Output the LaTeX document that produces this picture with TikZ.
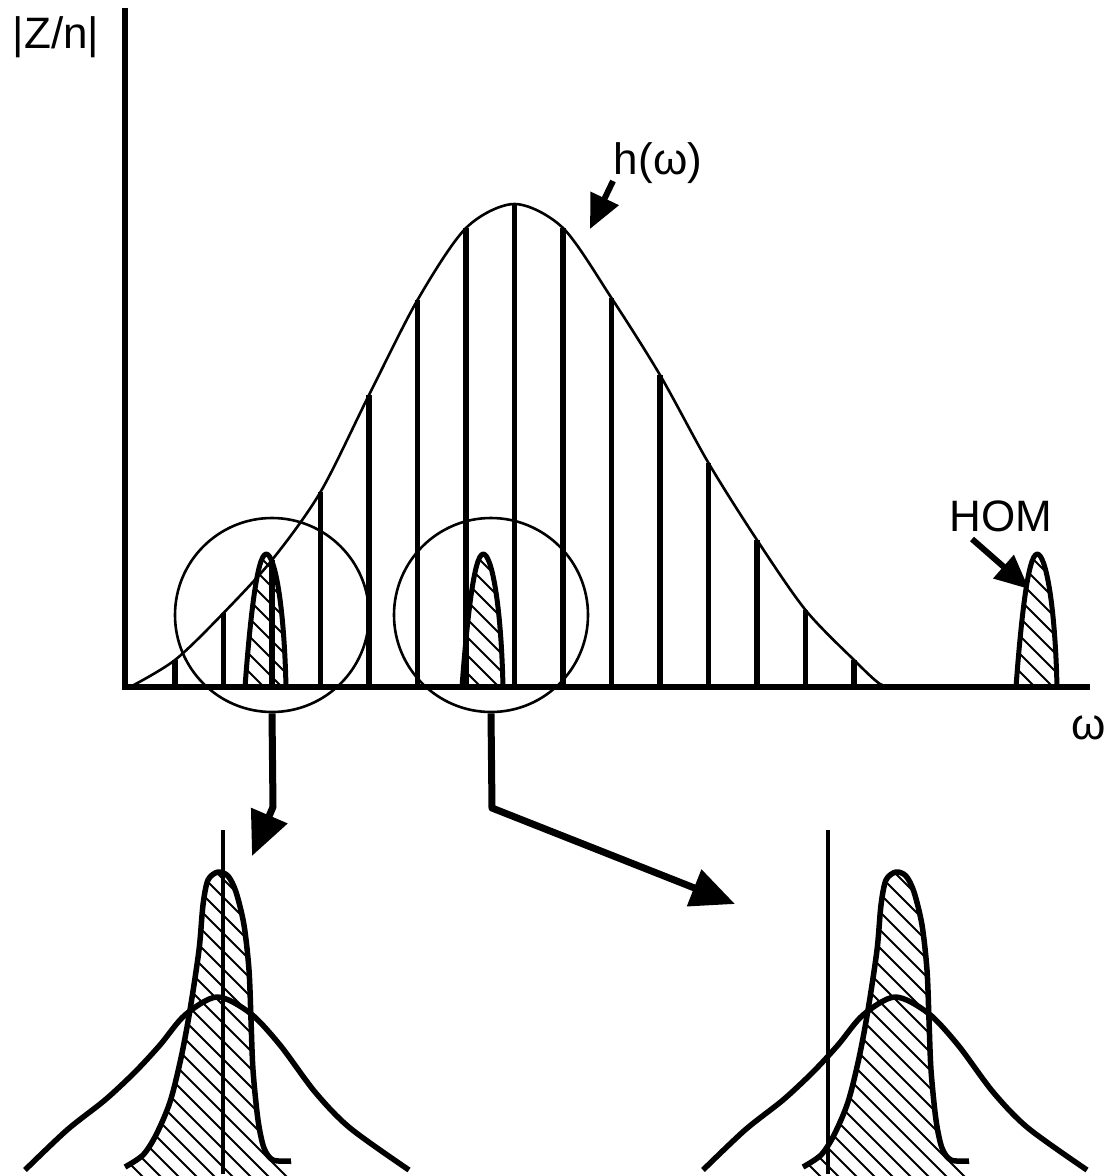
\documentclass[tikz,border=0pt]{standalone}
\usepackage{fontspec}
\setmainfont{Liberation Sans}
\usetikzlibrary{arrows.meta}
\begin{document}
\begin{tikzpicture}[x=1pt,y=-1pt,
  axis/.style={line width=6pt},
  bar/.style={line width=5.5pt},
  env/.style={line width=2.6pt},
  ring/.style={circle, draw, line width=2.6pt, minimum size=194pt, inner sep=0pt},
  peakline/.style={line width=5pt, line join=round},
  curveline/.style={line width=5.5pt, line join=round},
  vline/.style={line width=4.5pt},
  hatchline/.style={line width=2pt},
  bigarrow/.style={line width=7pt, line join=round, -{Triangle[length=44pt,width=38pt]}},
  smallarrow/.style={line width=6pt, -{Triangle[length=34pt,width=30pt]}},
  lbl/.style={inner sep=0pt, font=\fontsize{44}{48}\selectfont}]
\useasboundingbox (0,0) rectangle (1114,1176);

% hatched peaks on the axis
\foreach \c in {267,484,1038}{
  \begin{scope}
    \clip ({\c-22},687) .. controls ({\c-17},620) and ({\c-10},555) .. ({\c-1},554)
       .. controls ({\c+7},553) and ({\c+17},600) .. ({\c+19},687) -- cycle;
    \foreach \k in {-3,...,10}
      \draw[hatchline] ({\c-150+18*\k},540) -- ++(160,160);
  \end{scope}
  \draw[peakline] ({\c-22},687) .. controls ({\c-17},620) and ({\c-10},555) .. ({\c-1},554)
     .. controls ({\c+7},553) and ({\c+17},600) .. ({\c+19},687);
}

% bars
\foreach \x/\t in {175/660,223.5/613,272/560,320.5/492,369/395,417.5/300,466/228,514.5/204,563/228,611.5/298,660/375,708.5/463,757/540,805.5/610,854/660}{
  \draw[bar] (\x,687) -- (\x,\t);
}

% envelope h(omega)
\draw[env] plot[smooth] coordinates {(130,687) (175,660) (223.5,613) (272,560) (320.5,492) (369,395) (417.5,300) (466,228) (514.5,204) (563,228) (611.5,298) (660,375) (708.5,463) (757,540) (805.5,610) (854,660) (880,684) (895,687)};

% axes
\draw[axis] (125,8) -- (125,690);
\draw[axis] (122,687) -- (1090,687);

% circles
\node[ring] (lc) at (272,615) {};
\node[ring] (rc) at (491,615) {};

% labels
\node[lbl] (zn) at (56,37) {|Z/n|};
\node[lbl] (h) at (658,163) {h(ω)};
\node[lbl] (hom) at (1001,516) {HOM};
\node[lbl] (w) at (1089,728) {ω};

% label arrows
\coordinate (hs) at (613,181);
\coordinate (ht) at (590,229);
\draw[smallarrow] (hs) -- (ht);
\coordinate (ms) at (972,539);
\coordinate (mt) at (1029,589);
\draw[smallarrow] (ms) -- (mt);

% zoom arrows
\coordinate (lbend) at (273,807);
\coordinate (ltip) at (252,856);
\draw[bigarrow] (lc.south) -- (lbend) -- (ltip);
\coordinate (rbend) at (492,808);
\coordinate (rtip) at (735,904);
\draw[bigarrow] (rc.south) -- (rbend) -- (rtip);

% bottom detail plots
\foreach \s/\v in {0/223,678/150}{
\begin{scope}[shift={(\s,0)}]
  \begin{scope}
    \clip plot[smooth] coordinates {(125,1167) (143,1155) (156,1135) (170,1102) (181,1058) (190,1010) (199,950) (203,905) (208,880) (218,872) (228,876) (236,892) (244,925) (249,970) (251,1020) (253,1070) (258,1120) (264,1148) (273,1160) (291,1161)} -- (291,1176) -- (125,1176) -- cycle;
    \foreach \k in {0,...,28}
      \draw[hatchline] ({-210+18*\k},860) -- ++(330,330);
  \end{scope}
  \draw[curveline] plot[smooth] coordinates {(125,1167) (143,1155) (156,1135) (170,1102) (181,1058) (190,1010) (199,950) (203,905) (208,880) (218,872) (228,876) (236,892) (244,925) (249,970) (251,1020) (253,1070) (258,1120) (264,1148) (273,1160) (291,1161)};
  \draw[curveline] plot[smooth] coordinates {(25,1170) (67,1130) (105,1100) (135,1072) (160,1045) (185,1015) (217,997) (250,1013) (280,1045) (315,1092) (350,1128) (409,1170)};
  \draw[vline] (\v,830) -- (\v,1174);
\end{scope}
}
\end{tikzpicture}
\end{document}
